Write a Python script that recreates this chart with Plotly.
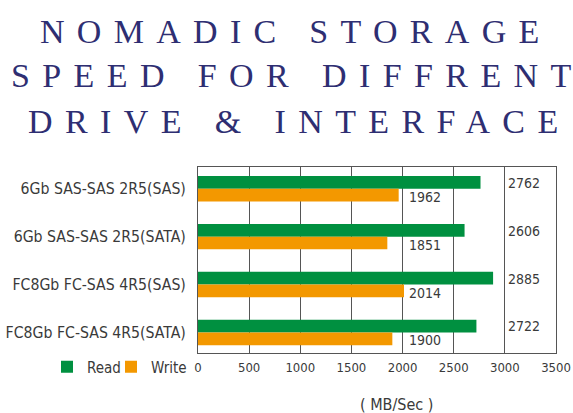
import plotly.graph_objects as go

categories = ["6Gb SAS-SAS 2R5(SAS)", "6Gb SAS-SAS 2R5(SATA)",
              "FC8Gb FC-SAS 4R5(SAS)", "FC8Gb FC-SAS 4R5(SATA)"]
read_values = [2762, 2606, 2885, 2722]
write_values = [1962, 1851, 2014, 1900]
x_ticks = [0, 500, 1000, 1500, 2000, 2500, 3000, 3500]
title_lines = ["NOMADIC STORAGE", "SPEED FOR DIFFRENT", "DRIVE & INTERFACE"]
axis_title = "( MB/Sec )"

W, H = 573, 413
ML, MR, MT, MB = 198, 17, 167, 60
PW, PH = W - ML - MR, H - MT - MB

def px_x(p):
    return (p - ML) / PW

def px_y(p):
    return (H - MB - p) / PH

NARROW = "Liberation Sans Narrow, Arial Narrow, DejaVu Sans Condensed, sans-serif"
TXT = "#3a3a3a"
GREEN = "#009040"
ORANGE = "#f39800"
NAVY = "#2e2e72"
GRID = "#555555"

fig = go.Figure()
fig.add_trace(go.Bar(name="Read", y=categories, x=read_values, orientation="h",
                     marker=dict(color=GREEN, line=dict(width=0)), legend="legend"))
fig.add_trace(go.Bar(name="Write", y=categories, x=write_values, orientation="h",
                     marker=dict(color=ORANGE, line=dict(width=0)), legend="legend2"))

ann = []
for c, r, w in zip(categories, read_values, write_values):
    ann.append(dict(x=3000, y=c, xref="x", yref="y", text=str(r), showarrow=False,
                    xanchor="left", yanchor="middle", xshift=1, yshift=6,
                    font=dict(family=NARROW, size=14, color=TXT)))
    ann.append(dict(x=2000, y=c, xref="x", yref="y", text=str(w), showarrow=False,
                    xanchor="left", yanchor="middle", xshift=4, yshift=-8,
                    font=dict(family=NARROW, size=14, color=TXT)))

title_x = [38, 9, 25.6]
title_y = [31.5, 75.7, 121.5]
spacing = [12.3, 12.4, 12.4]
for t, xp, yp, sp in zip(title_lines, title_x, title_y, spacing):
    styled = f'<span style="letter-spacing:{sp}px">{t[:-1]}</span>{t[-1]}'
    ann.append(dict(x=px_x(xp), y=px_y(yp), xref="paper", yref="paper",
                    text=styled,
                    showarrow=False, xanchor="left", yanchor="middle",
                    font=dict(family="Liberation Serif, Times New Roman, serif", size=34, color=NAVY)))

ann.append(dict(x=px_x(396), y=px_y(404), xref="paper", yref="paper", text=axis_title,
                showarrow=False, xanchor="center", yanchor="middle",
                font=dict(family=NARROW, size=16, color=TXT)))

legend_common = dict(orientation="h", yanchor="middle", y=px_y(367), xanchor="left",
                     font=dict(family=NARROW, size=15, color=TXT),
                     bgcolor="rgba(0,0,0,0)", itemwidth=30)

fig.update_layout(
    width=W, height=H,
    margin=dict(l=ML, r=MR, t=MT, b=MB, pad=0, autoexpand=False),
    paper_bgcolor="white", plot_bgcolor="white",
    barmode="group", bargap=0.47, bargroupgap=0,
    annotations=ann,
    showlegend=True,
    legend=dict(x=px_x(47), **legend_common),
    legend2=dict(x=px_x(111), **legend_common),
    xaxis=dict(range=[0, 3500], tickvals=x_ticks, ticktext=[str(v) for v in x_ticks],
               showgrid=True, gridcolor=GRID, gridwidth=1, zeroline=False,
               showline=True, linecolor=GRID, linewidth=1, mirror=True,
               ticks="outside", ticklen=2, tickcolor="rgba(0,0,0,0)", automargin=False,
               tickfont=dict(family=NARROW, size=13, color=TXT)),
    yaxis=dict(categoryorder="array", categoryarray=categories,
               range=[3.428, -0.4535], showgrid=False, zeroline=False,
               showline=True, linecolor=GRID, linewidth=1, mirror=True,
               ticks="outside", ticklen=8, tickcolor="rgba(0,0,0,0)", automargin=False,
               tickfont=dict(family=NARROW, size=15.7, color=TXT)),
)

fig.write_html("out.html", config={"displayModeBar": False},
               post_script="document.body.style.margin='0';document.body.style.padding='0';")
